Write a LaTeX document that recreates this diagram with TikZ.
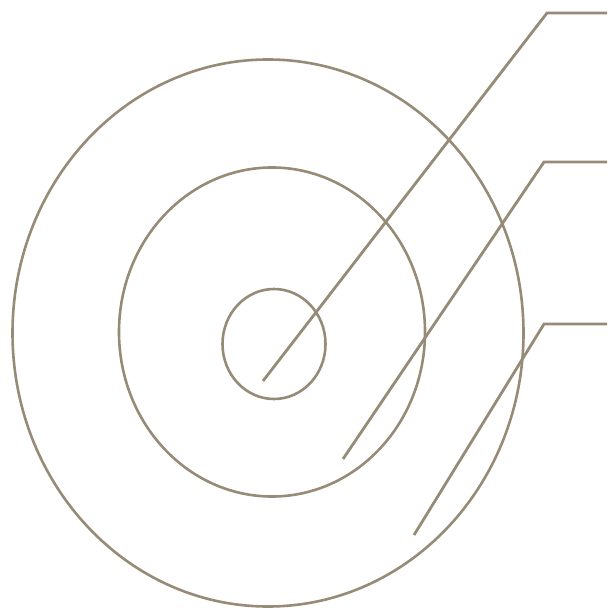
\documentclass[tikz,border=0pt]{standalone}
\usepackage{xcolor}
\usepackage{tikz}
\usetikzlibrary{shapes.geometric}

\definecolor{ringtan}{RGB}{150,139,118}

\begin{document}
\begin{tikzpicture}[
            x=1pt, y=-1pt,
            ring/.style={ellipse, draw=ringtan, line width=2.6pt, inner sep=0pt},
            leader/.style={draw=ringtan, line width=2.8pt, line join=miter},
        ]
        \useasboundingbox (0,0) rectangle (607,609);
        % Three nested rings (outer, middle, inner)
        \node[ring, minimum width=511pt, minimum height=547pt] (outer) at (268,333) {};
        \node[ring, minimum width=306pt, minimum height=329pt] (middle) at (272,332) {};
        \node[ring, minimum width=103pt, minimum height=110pt] (inner) at (274,344) {};
        % Leader ends inside each ring, bends and free right ends
        \coordinate (pInner) at (263,381);
        \coordinate (pMiddle) at (343,459);
        \coordinate (pOuter) at (414,535);
        \coordinate (bInner) at (547,13);
        \coordinate (bMiddle) at (544,162);
        \coordinate (bOuter) at (544,324);
        \coordinate (eInner) at (607,13);
        \coordinate (eMiddle) at (607,162);
        \coordinate (eOuter) at (607,324);
        \draw[leader] (pInner) -- (bInner) -- (eInner);
        \draw[leader] (pMiddle) -- (bMiddle) -- (eMiddle);
        \draw[leader] (pOuter) -- (bOuter) -- (eOuter);
    \end{tikzpicture}
\end{document}
